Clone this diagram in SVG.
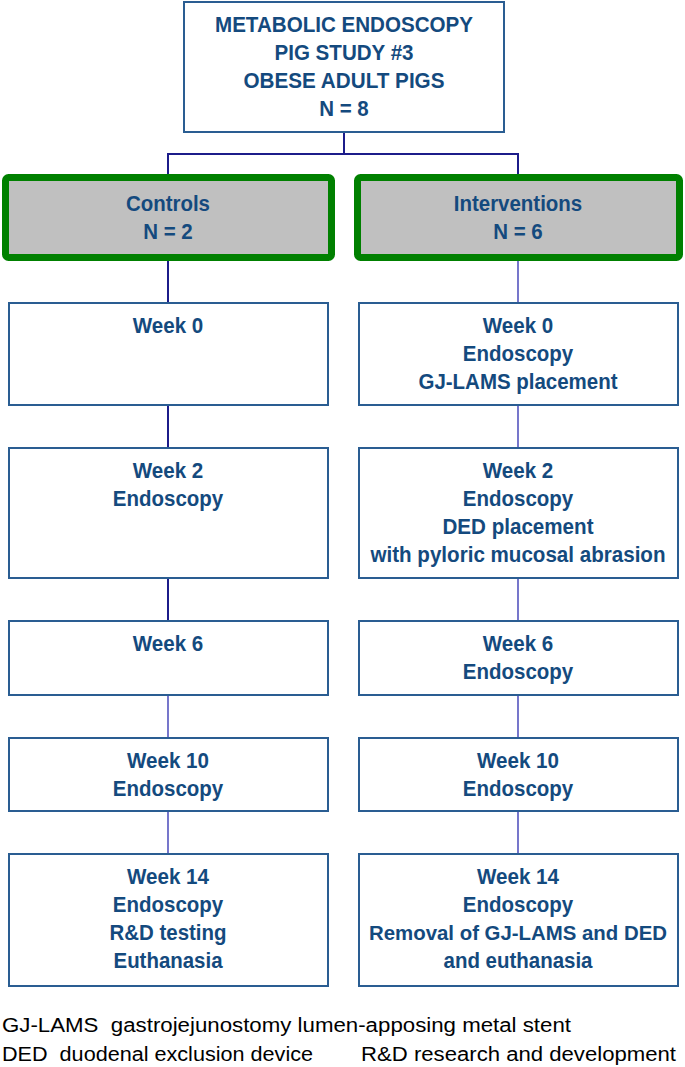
<svg xmlns="http://www.w3.org/2000/svg" width="685" height="1067" viewBox="0 0 685 1067">
<style>
.box{fill:#fff;stroke:#2a5d92;stroke-width:2}
.grp{fill:#c0c0c0;stroke:#008000;stroke-width:7}
.t{font-family:"Liberation Sans",Arial,sans-serif;font-weight:bold;font-size:22px;fill:#144a7e;text-anchor:middle}
.f{font-family:"Liberation Sans",Arial,sans-serif;font-size:20px;fill:#000}
.c1{stroke:#1c1c8a;stroke-width:2;fill:none}
.c2{stroke:#2e2eb0;stroke-width:1.3;fill:none}
</style>
<g id="connectors">
<path class="c1" d="M344 132V154M168 154H518M168 153V176M518 153V176"/>
<path class="c1" d="M168 260V303M168 405V448M168 578V621"/>
<path class="c2" d="M518 260V303M518 405V448M518 578V621M168 695V738M518 695V738M168 811V854M518 811V854"/>
</g>
<g id="study">
<rect class="box" x="184" y="2" width="320" height="130"/>
<text class="t" x="344" y="32" textLength="258" lengthAdjust="spacingAndGlyphs">METABOLIC ENDOSCOPY</text>
<text class="t" x="344" y="60" textLength="139" lengthAdjust="spacingAndGlyphs">PIG STUDY #3</text>
<text class="t" x="344" y="88" textLength="201" lengthAdjust="spacingAndGlyphs">OBESE ADULT PIGS</text>
<text class="t" x="344" y="116" textLength="49.5" lengthAdjust="spacingAndGlyphs">N = 8</text>
</g>
<g id="controls">
<rect class="grp" x="5.5" y="177.5" width="326" height="80" rx="3"/>
<text class="t" x="168" y="210.5" textLength="84" lengthAdjust="spacingAndGlyphs">Controls</text>
<text class="t" x="168" y="239" textLength="49.5" lengthAdjust="spacingAndGlyphs">N = 2</text>
</g>
<g id="interventions">
<rect class="grp" x="357.5" y="177.5" width="322" height="80" rx="3"/>
<text class="t" x="518" y="210.5" textLength="128.5" lengthAdjust="spacingAndGlyphs">Interventions</text>
<text class="t" x="518" y="239" textLength="49.5" lengthAdjust="spacingAndGlyphs">N = 6</text>
</g>
<g id="c-week0">
<rect class="box" x="9" y="303" width="319" height="102"/>
<text class="t" x="168" y="332.5" textLength="70.5" lengthAdjust="spacingAndGlyphs">Week 0</text>
</g>
<g id="i-week0">
<rect class="box" x="359" y="303" width="319" height="102"/>
<text class="t" x="518" y="332.5" textLength="70.5" lengthAdjust="spacingAndGlyphs">Week 0</text>
<text class="t" x="518" y="360.5" textLength="110.3" lengthAdjust="spacingAndGlyphs">Endoscopy</text>
<text class="t" x="518" y="388.5" textLength="199" lengthAdjust="spacingAndGlyphs">GJ-LAMS placement</text>
</g>
<g id="c-week2">
<rect class="box" x="9" y="448" width="319" height="130"/>
<text class="t" x="168" y="478" textLength="70.5" lengthAdjust="spacingAndGlyphs">Week 2</text>
<text class="t" x="168" y="506" textLength="110.3" lengthAdjust="spacingAndGlyphs">Endoscopy</text>
</g>
<g id="i-week2">
<rect class="box" x="359" y="448" width="319" height="130"/>
<text class="t" x="518" y="478" textLength="70.5" lengthAdjust="spacingAndGlyphs">Week 2</text>
<text class="t" x="518" y="506" textLength="110.3" lengthAdjust="spacingAndGlyphs">Endoscopy</text>
<text class="t" x="518" y="534" textLength="151" lengthAdjust="spacingAndGlyphs">DED placement</text>
<text class="t" x="518" y="562" textLength="295" lengthAdjust="spacingAndGlyphs">with pyloric mucosal abrasion</text>
</g>
<g id="c-week6">
<rect class="box" x="9" y="621" width="319" height="74"/>
<text class="t" x="168" y="651" textLength="70.5" lengthAdjust="spacingAndGlyphs">Week 6</text>
</g>
<g id="i-week6">
<rect class="box" x="359" y="621" width="319" height="74"/>
<text class="t" x="518" y="651" textLength="70.5" lengthAdjust="spacingAndGlyphs">Week 6</text>
<text class="t" x="518" y="679" textLength="110.3" lengthAdjust="spacingAndGlyphs">Endoscopy</text>
</g>
<g id="c-week10">
<rect class="box" x="9" y="738" width="319" height="73"/>
<text class="t" x="168" y="767.5" textLength="82" lengthAdjust="spacingAndGlyphs">Week 10</text>
<text class="t" x="168" y="795.5" textLength="110.3" lengthAdjust="spacingAndGlyphs">Endoscopy</text>
</g>
<g id="i-week10">
<rect class="box" x="359" y="738" width="319" height="73"/>
<text class="t" x="518" y="767.5" textLength="82" lengthAdjust="spacingAndGlyphs">Week 10</text>
<text class="t" x="518" y="795.5" textLength="110.3" lengthAdjust="spacingAndGlyphs">Endoscopy</text>
</g>
<g id="c-week14">
<rect class="box" x="9" y="854" width="319" height="132"/>
<text class="t" x="168" y="884" textLength="82" lengthAdjust="spacingAndGlyphs">Week 14</text>
<text class="t" x="168" y="912" textLength="110.3" lengthAdjust="spacingAndGlyphs">Endoscopy</text>
<text class="t" x="168" y="940" textLength="117" lengthAdjust="spacingAndGlyphs">R&amp;D testing</text>
<text class="t" x="168" y="968" textLength="109" lengthAdjust="spacingAndGlyphs">Euthanasia</text>
</g>
<g id="i-week14">
<rect class="box" x="359" y="854" width="319" height="132"/>
<text class="t" x="518" y="884" textLength="82" lengthAdjust="spacingAndGlyphs">Week 14</text>
<text class="t" x="518" y="912" textLength="110.3" lengthAdjust="spacingAndGlyphs">Endoscopy</text>
<text class="t" x="518" y="940" style="font-size:20.4px" textLength="298" lengthAdjust="spacingAndGlyphs">Removal of GJ-LAMS and DED</text>
<text class="t" x="518" y="968" textLength="149" lengthAdjust="spacingAndGlyphs">and euthanasia</text>
</g>
<g id="legend">
<text class="f" x="2" y="1032" textLength="569" lengthAdjust="spacingAndGlyphs" xml:space="preserve">GJ-LAMS  gastrojejunostomy lumen-apposing metal stent</text>
<text class="f" x="2" y="1061" textLength="311" lengthAdjust="spacingAndGlyphs" xml:space="preserve">DED  duodenal exclusion device</text>
<text class="f" x="361" y="1061" textLength="315" lengthAdjust="spacingAndGlyphs">R&amp;D research and development</text>
</g>
</svg>
